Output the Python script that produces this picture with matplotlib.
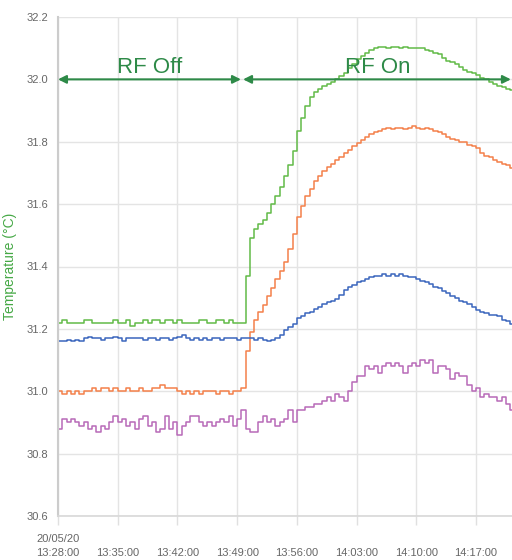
import numpy as np
import pandas as pd
import matplotlib
matplotlib.use('Agg')
import matplotlib.pyplot as plt
import matplotlib.dates as mdates

plt.rcParams['font.family'] = ['Liberation Sans', 'DejaVu Sans']

# samples every 30 s from 20/05/20 13:28:00
start = pd.Timestamp('2020-05-20 13:28:00')
times = pd.date_range(start, periods=108, freq='30s')

green = [31.22, 31.23, 31.22, 31.22, 31.22, 31.22, 31.23, 31.23, 31.22, 31.22,
         31.22, 31.22, 31.22, 31.23, 31.22, 31.22, 31.23, 31.21, 31.22, 31.22,
         31.23, 31.22, 31.23, 31.23, 31.22, 31.23, 31.23, 31.22, 31.23, 31.22,
         31.22, 31.22, 31.22, 31.23, 31.23, 31.22, 31.22, 31.23, 31.23, 31.22,
         31.23, 31.22, 31.22, 31.22, 31.37, 31.49, 31.52, 31.535, 31.55, 31.57,
         31.60, 31.625, 31.655, 31.69, 31.725, 31.77, 31.835, 31.875, 31.915, 31.945,
         31.96, 31.97, 31.98, 31.985, 31.99, 32.0, 32.01, 32.02, 32.035, 32.05,
         32.065, 32.075, 32.085, 32.095, 32.1, 32.105, 32.105, 32.1, 32.105, 32.105,
         32.1, 32.105, 32.1, 32.1, 32.1, 32.1, 32.095, 32.09, 32.085, 32.08,
         32.07, 32.06, 32.055, 32.05, 32.04, 32.03, 32.025, 32.02, 32.015, 32.005,
         32.0, 31.99, 31.985, 31.98, 31.975, 31.97, 31.965, 31.965]

orange = [31.0, 30.99, 31.0, 30.99, 31.0, 30.99, 31.0, 31.0, 31.01, 31.0,
          31.01, 31.01, 31.0, 31.01, 31.0, 31.0, 31.01, 31.0, 31.0, 31.01,
          31.0, 31.0, 31.01, 31.01, 31.02, 31.01, 31.01, 31.01, 31.0, 30.99,
          31.0, 30.99, 31.0, 30.99, 31.0, 31.0, 31.0, 30.99, 31.0, 31.0,
          30.99, 31.0, 31.0, 31.01, 31.13, 31.19, 31.23, 31.255, 31.275, 31.305,
          31.33, 31.36, 31.385, 31.415, 31.455, 31.505, 31.56, 31.595, 31.625, 31.65,
          31.675, 31.69, 31.705, 31.72, 31.73, 31.74, 31.75, 31.765, 31.775, 31.785,
          31.795, 31.805, 31.815, 31.825, 31.83, 31.835, 31.84, 31.845, 31.84, 31.845,
          31.845, 31.84, 31.845, 31.85, 31.845, 31.84, 31.845, 31.84, 31.835, 31.83,
          31.825, 31.815, 31.81, 31.805, 31.8, 31.8, 31.79, 31.785, 31.78, 31.765,
          31.755, 31.75, 31.74, 31.735, 31.73, 31.725, 31.715, 31.71]

blue = [31.16, 31.16, 31.165, 31.16, 31.165, 31.16, 31.17, 31.175, 31.17, 31.17,
        31.165, 31.17, 31.17, 31.175, 31.17, 31.16, 31.17, 31.17, 31.17, 31.17,
        31.165, 31.17, 31.17, 31.165, 31.17, 31.17, 31.165, 31.17, 31.175, 31.18,
        31.17, 31.165, 31.17, 31.165, 31.17, 31.165, 31.17, 31.17, 31.165, 31.17,
        31.17, 31.17, 31.165, 31.17, 31.17, 31.17, 31.165, 31.17, 31.165, 31.16,
        31.165, 31.17, 31.18, 31.195, 31.205, 31.215, 31.235, 31.24, 31.25, 31.255,
        31.265, 31.27, 31.28, 31.285, 31.29, 31.295, 31.31, 31.325, 31.335, 31.34,
        31.35, 31.355, 31.36, 31.365, 31.37, 31.37, 31.375, 31.37, 31.375, 31.37,
        31.375, 31.37, 31.365, 31.365, 31.36, 31.355, 31.35, 31.345, 31.335, 31.33,
        31.32, 31.315, 31.305, 31.3, 31.29, 31.285, 31.28, 31.27, 31.26, 31.255,
        31.25, 31.245, 31.245, 31.24, 31.23, 31.225, 31.215, 31.21]

purple = [30.88, 30.91, 30.90, 30.91, 30.90, 30.89, 30.90, 30.88, 30.89, 30.87,
          30.89, 30.88, 30.90, 30.92, 30.90, 30.91, 30.89, 30.90, 30.88, 30.91,
          30.92, 30.89, 30.90, 30.87, 30.88, 30.92, 30.88, 30.90, 30.86, 30.89,
          30.90, 30.92, 30.92, 30.90, 30.89, 30.90, 30.89, 30.90, 30.91, 30.90,
          30.92, 30.89, 30.91, 30.94, 30.88, 30.87, 30.87, 30.90, 30.92, 30.90,
          30.91, 30.89, 30.90, 30.91, 30.94, 30.90, 30.94, 30.94, 30.95, 30.95,
          30.96, 30.96, 30.97, 30.98, 30.97, 30.99, 30.98, 30.97, 31.00, 31.03,
          31.05, 31.05, 31.08, 31.07, 31.08, 31.06, 31.08, 31.09, 31.08, 31.09,
          31.08, 31.06, 31.08, 31.09, 31.08, 31.10, 31.09, 31.10, 31.06, 31.08,
          31.08, 31.07, 31.04, 31.06, 31.05, 31.05, 31.02, 31.00, 31.01, 30.98,
          30.99, 30.98, 30.98, 30.97, 30.98, 30.96, 30.94, 30.95]

yticks = [30.6, 30.8, 31.0, 31.2, 31.4, 31.6, 31.8, 32.0, 32.2]
xticks = pd.date_range(start, periods=8, freq='7min')

fig = plt.figure(figsize=(5.12, 5.6), dpi=100)
ax = fig.add_axes([58/512, 44/560, 454/512, 499/560])

ax.step(times, green, where='post', color='#62bb48', lw=1.1)
ax.step(times, orange, where='post', color='#f4804a', lw=1.1)
ax.step(times, blue, where='post', color='#3b66bd', lw=1.1)
ax.step(times, purple, where='post', color='#b86ab8', lw=1.1)

ax.set_ylim(30.6, 32.2)
ax.set_yticks(yticks)
ax.set_yticklabels(['%.1f' % v for v in yticks])
ax.set_xlim(start, start + pd.Timedelta(minutes=53.23))
ax.set_xticks(xticks)
labels = ['\n' + t.strftime('%H:%M:%S') for t in xticks]
labels[0] = xticks[0].strftime('%d/%m/%y') + '\n' + xticks[0].strftime('%H:%M:%S')
ax.set_xticklabels(labels, linespacing=1.55)

ax.grid(True, color='#e4e4e4', lw=1)
ax.set_axisbelow(True)
for s in ['top', 'right']:
    ax.spines[s].set_visible(False)
ax.spines['left'].set_color('#cccccc')
ax.spines['left'].set_linewidth(1.5)
ax.spines['bottom'].set_color('#d8d8d8')
ax.spines['bottom'].set_linewidth(1.2)
ax.tick_params(axis='y', length=0, pad=7, labelsize=8, labelcolor='#666666')
ax.tick_params(axis='x', length=6.5, width=1, color='#e0e0e0', pad=6.5,
               labelsize=8, labelcolor='#666666')

ax.set_ylabel('Temperature (°C)', color='#45a845', fontsize=10)
ax.yaxis.set_label_coords(-41/454, 0.5)

# RF off / on arrows
arrow_col = '#2e8a48'
t_off0 = mdates.date2num(start)
t_off1 = mdates.date2num(start + pd.Timedelta(minutes=21.45))
t_on0 = mdates.date2num(start + pd.Timedelta(minutes=21.7))
t_on1 = mdates.date2num(start + pd.Timedelta(minutes=53.1))
for a, b in [(t_off0, t_off1), (t_on0, t_on1)]:
    ax.annotate('', xy=(b, 32.0), xytext=(a, 32.0),
                arrowprops=dict(arrowstyle='<|-|>', color=arrow_col, lw=1.5,
                                mutation_scale=12, shrinkA=0, shrinkB=0),
                annotation_clip=False)
ax.text(mdates.date2num(start + pd.Timedelta(minutes=10.8)), 32.037, 'RF Off',
        color=arrow_col, fontsize=16, ha='center', va='center')
ax.text(mdates.date2num(start + pd.Timedelta(minutes=37.45)), 32.037, 'RF On',
        color=arrow_col, fontsize=16, ha='center', va='center')

fig.savefig('out.png', dpi=100)
